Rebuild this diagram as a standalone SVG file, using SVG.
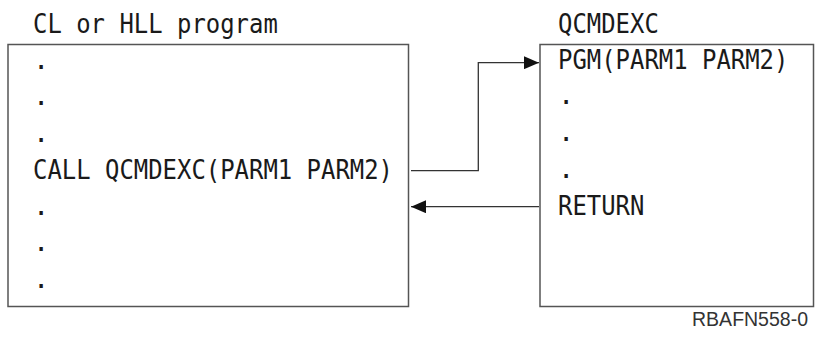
<svg xmlns="http://www.w3.org/2000/svg" width="820" height="341" viewBox="0 0 820 341">
<defs>
<style>
.mono{font-family:"DejaVu Sans Mono","Liberation Mono",monospace;font-size:27px;fill:#1a1a1a}
.box{fill:#fff;stroke:#555;stroke-width:1.5}
.conn{fill:none;stroke:#333;stroke-width:1.3}
.id{font-family:"Liberation Sans",Arial,sans-serif;font-size:19.5px;fill:#333}
</style>
<marker id="ah" viewBox="0 0 15 13" refX="15" refY="6.5" markerWidth="15" markerHeight="13" markerUnits="userSpaceOnUse" orient="auto">
<path d="M0,0 L15,6.5 L0,13 Z" fill="#111"/>
</marker>
</defs>
<rect width="820" height="341" fill="#fff"/>
<g id="caller">
<text class="mono" x="33" y="33" textLength="244.8" lengthAdjust="spacingAndGlyphs">CL or HLL program</text>
<rect class="box" x="8" y="44.5" width="400.5" height="262"/>
<text class="mono" x="33" y="68.5">.</text>
<text class="mono" x="33" y="105">.</text>
<text class="mono" x="33" y="141.5">.</text>
<text class="mono" x="33" y="178.5" textLength="360" lengthAdjust="spacingAndGlyphs">CALL QCMDEXC(PARM1 PARM2)</text>
<text class="mono" x="33" y="214.5">.</text>
<text class="mono" x="33" y="251">.</text>
<text class="mono" x="33" y="287.5">.</text>
</g>
<g id="qcmdexc">
<text class="mono" x="558" y="33" textLength="100.8" lengthAdjust="spacingAndGlyphs">QCMDEXC</text>
<rect class="box" x="540" y="44.5" width="273.5" height="262"/>
<text class="mono" x="558" y="68.5" textLength="230.4" lengthAdjust="spacingAndGlyphs">PGM(PARM1 PARM2)</text>
<text class="mono" x="558" y="104">.</text>
<text class="mono" x="558" y="140.5">.</text>
<text class="mono" x="558" y="177.5">.</text>
<text class="mono" x="558" y="214.5" textLength="86.4" lengthAdjust="spacingAndGlyphs">RETURN</text>
</g>
<g id="connectors">
<polyline class="conn" points="411,170.7 478.3,170.7 478.3,62.7 539,62.7" marker-end="url(#ah)"/>
<line class="conn" x1="539" y1="206.7" x2="411" y2="206.7" marker-end="url(#ah)"/>
</g>
<text class="id" x="808" y="326" text-anchor="end">RBAFN558-0</text>
</svg>
